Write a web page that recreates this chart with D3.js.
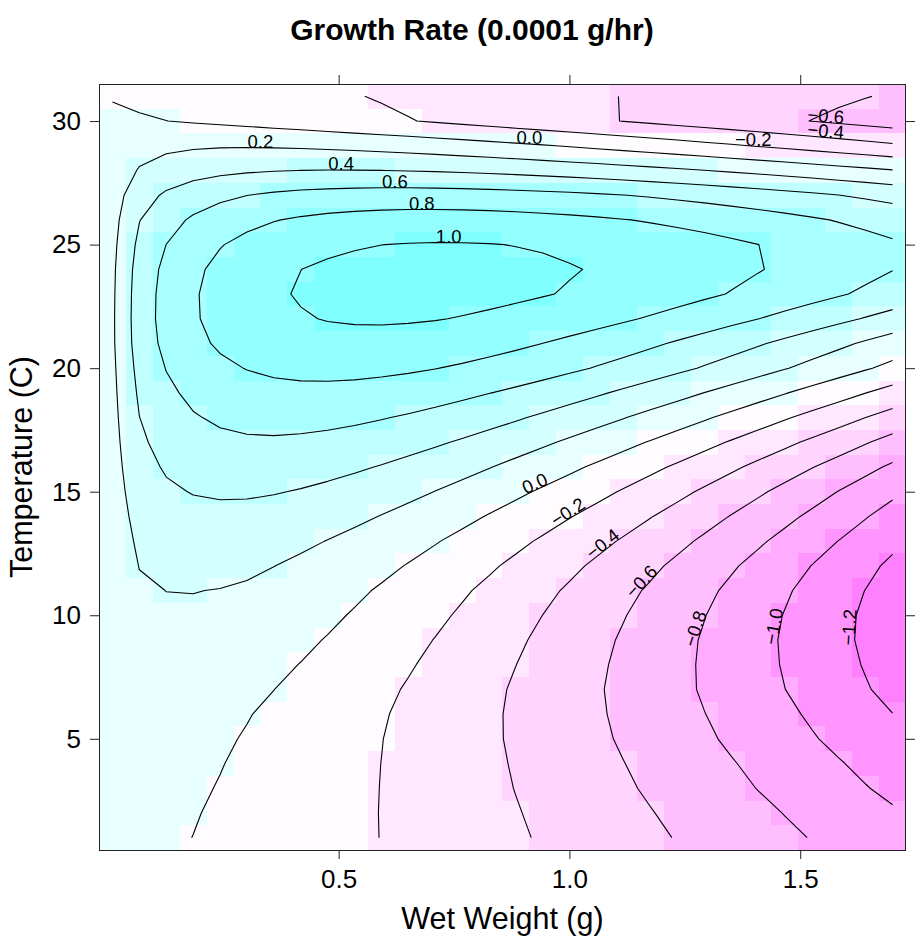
<!DOCTYPE html>
<html>
<head>
<meta charset="utf-8">
<title>Growth Rate (0.0001 g/hr)</title>
<style>
  html, body { margin: 0; padding: 0; background: #fff; }
  svg { display: block; font-family: "Liberation Sans", Arial, Helvetica, sans-serif; }
</style>
</head>
<body>
<script src="https://cdn.jsdelivr.net/npm/d3@7"></script>
<script>
// Wet weight grid (g), one value per column
const weights = [0.0100, 0.0683, 0.1266, 0.1848, 0.2431, 0.3014, 0.3597, 0.4179, 0.4762, 0.5345,
                 0.5928, 0.6510, 0.7093, 0.7676, 0.8259, 0.8841, 0.9424, 1.0007, 1.0590, 1.1172,
                 1.1755, 1.2338, 1.2921, 1.3503, 1.4086, 1.4669, 1.5252, 1.5834, 1.6417, 1.7000];

// Temperature (C), one value per row of growthRate (top row first)
const temperatures = [31, 30, 29, 28, 27, 26, 25, 24, 23, 22, 21, 20, 19, 18, 17, 16,
                      15, 14, 13, 12, 11, 10, 9, 8, 7, 6, 5, 4, 3, 2, 1];

// Growth rate (0.0001 g/hr); rows follow temperatures, columns follow weights
const growthRate = [
  [-0.003,-0.024,-0.045,-0.066,-0.087,-0.108,-0.129,-0.150,-0.171,-0.192,-0.213,-0.235,-0.256,-0.277,-0.298,-0.319,-0.340,-0.362,-0.383,-0.404,-0.425,-0.446,-0.467,-0.489,-0.510,-0.531,-0.552,-0.574,-0.595,-0.616],
  [0.010,0.012,0.001,-0.015,-0.033,-0.052,-0.074,-0.096,-0.119,-0.143,-0.167,-0.192,-0.217,-0.243,-0.269,-0.296,-0.322,-0.349,-0.377,-0.404,-0.432,-0.460,-0.488,-0.517,-0.545,-0.574,-0.603,-0.632,-0.661,-0.690],
  [0.048,0.128,0.161,0.177,0.185,0.186,0.182,0.175,0.164,0.151,0.136,0.119,0.100,0.080,0.058,0.036,0.012,-0.013,-0.039,-0.066,-0.093,-0.122,-0.151,-0.180,-0.211,-0.241,-0.273,-0.305,-0.337,-0.370],
  [0.076,0.214,0.283,0.327,0.358,0.379,0.392,0.401,0.404,0.404,0.401,0.394,0.386,0.375,0.362,0.347,0.330,0.312,0.293,0.272,0.250,0.227,0.203,0.178,0.152,0.125,0.098,0.069,0.040,0.010],
  [0.110,0.318,0.428,0.502,0.557,0.598,0.629,0.652,0.668,0.679,0.686,0.688,0.686,0.682,0.674,0.664,0.652,0.638,0.621,0.603,0.583,0.561,0.538,0.513,0.487,0.460,0.432,0.402,0.372,0.340],
  [0.135,0.394,0.531,0.626,0.697,0.750,0.792,0.823,0.847,0.864,0.875,0.881,0.883,0.881,0.876,0.867,0.855,0.841,0.825,0.806,0.785,0.762,0.737,0.710,0.682,0.653,0.621,0.589,0.555,0.520],
  [0.152,0.445,0.601,0.709,0.790,0.852,0.899,0.936,0.964,0.985,0.999,1.007,1.011,1.010,1.005,0.996,0.985,0.970,0.953,0.933,0.911,0.886,0.860,0.831,0.801,0.769,0.735,0.700,0.663,0.625],
  [0.165,0.480,0.647,0.762,0.847,0.912,0.961,0.999,1.027,1.046,1.059,1.065,1.067,1.063,1.055,1.044,1.029,1.010,0.989,0.965,0.938,0.909,0.878,0.844,0.809,0.771,0.732,0.691,0.649,0.605],
  [0.171,0.495,0.665,0.781,0.866,0.930,0.978,1.013,1.038,1.055,1.064,1.067,1.065,1.058,1.046,1.030,1.010,0.987,0.961,0.932,0.901,0.867,0.830,0.792,0.751,0.708,0.664,0.617,0.570,0.520],
  [0.174,0.500,0.667,0.779,0.859,0.917,0.959,0.988,1.007,1.017,1.020,1.016,1.007,0.992,0.973,0.950,0.923,0.893,0.859,0.822,0.783,0.741,0.697,0.650,0.602,0.551,0.498,0.444,0.388,0.330],
  [0.173,0.490,0.649,0.753,0.825,0.876,0.910,0.932,0.943,0.946,0.941,0.930,0.913,0.891,0.864,0.834,0.799,0.761,0.720,0.676,0.629,0.580,0.528,0.474,0.418,0.360,0.300,0.239,0.175,0.110],
  [0.163,0.460,0.606,0.700,0.763,0.806,0.834,0.849,0.854,0.852,0.842,0.826,0.804,0.778,0.747,0.713,0.675,0.633,0.589,0.542,0.492,0.440,0.385,0.329,0.270,0.209,0.147,0.083,0.017,-0.050],
  [0.154,0.429,0.561,0.643,0.696,0.729,0.747,0.754,0.752,0.742,0.725,0.702,0.674,0.641,0.604,0.564,0.520,0.473,0.423,0.370,0.315,0.258,0.198,0.137,0.073,0.008,-0.059,-0.128,-0.198,-0.270],
  [0.145,0.398,0.515,0.585,0.628,0.652,0.662,0.661,0.651,0.634,0.610,0.581,0.547,0.509,0.466,0.420,0.371,0.319,0.264,0.207,0.147,0.085,0.021,-0.045,-0.112,-0.182,-0.253,-0.325,-0.400,-0.475],
  [0.135,0.366,0.469,0.527,0.560,0.575,0.577,0.568,0.552,0.528,0.498,0.463,0.424,0.380,0.333,0.282,0.228,0.172,0.113,0.051,-0.012,-0.078,-0.146,-0.215,-0.286,-0.359,-0.434,-0.509,-0.587,-0.665],
  [0.124,0.332,0.420,0.467,0.490,0.497,0.492,0.477,0.454,0.425,0.390,0.350,0.306,0.258,0.207,0.152,0.095,0.035,-0.027,-0.091,-0.158,-0.226,-0.296,-0.368,-0.442,-0.517,-0.593,-0.671,-0.750,-0.830],
  [0.113,0.297,0.371,0.408,0.422,0.422,0.410,0.389,0.361,0.327,0.288,0.245,0.197,0.146,0.092,0.035,-0.024,-0.086,-0.150,-0.216,-0.284,-0.354,-0.426,-0.499,-0.573,-0.649,-0.726,-0.805,-0.884,-0.965],
  [0.102,0.262,0.322,0.349,0.355,0.348,0.330,0.305,0.273,0.236,0.194,0.147,0.098,0.045,-0.011,-0.069,-0.130,-0.193,-0.258,-0.324,-0.393,-0.463,-0.534,-0.607,-0.681,-0.757,-0.833,-0.911,-0.990,-1.070],
  [0.091,0.230,0.279,0.297,0.296,0.283,0.261,0.231,0.196,0.155,0.111,0.062,0.011,-0.044,-0.101,-0.160,-0.222,-0.285,-0.351,-0.418,-0.486,-0.556,-0.628,-0.700,-0.774,-0.849,-0.926,-1.003,-1.081,-1.160],
  [0.083,0.204,0.243,0.253,0.246,0.229,0.202,0.169,0.131,0.088,0.041,-0.009,-0.062,-0.118,-0.176,-0.237,-0.299,-0.363,-0.429,-0.496,-0.565,-0.635,-0.706,-0.779,-0.852,-0.927,-1.003,-1.079,-1.157,-1.235],
  [0.074,0.179,0.201,0.203,0.196,0.180,0.150,0.115,0.075,0.030,-0.018,-0.069,-0.123,-0.179,-0.237,-0.297,-0.359,-0.423,-0.488,-0.555,-0.622,-0.692,-0.762,-0.833,-0.905,-0.979,-1.053,-1.128,-1.203,-1.280],
  [0.067,0.158,0.181,0.180,0.165,0.141,0.110,0.073,0.032,-0.014,-0.062,-0.113,-0.166,-0.222,-0.280,-0.339,-0.401,-0.463,-0.527,-0.592,-0.659,-0.727,-0.795,-0.865,-0.935,-1.007,-1.079,-1.152,-1.226,-1.300],
  [0.059,0.137,0.153,0.147,0.129,0.103,0.070,0.033,-0.009,-0.054,-0.102,-0.152,-0.205,-0.260,-0.316,-0.374,-0.433,-0.494,-0.556,-0.619,-0.684,-0.749,-0.815,-0.882,-0.950,-1.018,-1.088,-1.158,-1.229,-1.300],
  [0.052,0.115,0.125,0.116,0.097,0.070,0.034,-0.004,-0.045,-0.089,-0.136,-0.185,-0.236,-0.289,-0.343,-0.399,-0.456,-0.514,-0.573,-0.634,-0.695,-0.757,-0.820,-0.884,-0.948,-1.013,-1.079,-1.145,-1.212,-1.280],
  [0.044,0.095,0.098,0.085,0.063,0.034,0.001,-0.037,-0.078,-0.121,-0.166,-0.214,-0.263,-0.313,-0.365,-0.418,-0.472,-0.528,-0.584,-0.641,-0.699,-0.758,-0.817,-0.877,-0.938,-0.999,-1.061,-1.124,-1.187,-1.250],
  [0.037,0.076,0.075,0.060,0.036,0.007,-0.026,-0.063,-0.102,-0.143,-0.187,-0.231,-0.278,-0.325,-0.374,-0.424,-0.475,-0.527,-0.579,-0.633,-0.687,-0.741,-0.797,-0.852,-0.909,-0.966,-1.023,-1.081,-1.139,-1.198],
  [0.032,0.064,0.059,0.043,0.019,-0.010,-0.043,-0.078,-0.116,-0.155,-0.197,-0.240,-0.284,-0.329,-0.375,-0.422,-0.471,-0.519,-0.569,-0.619,-0.670,-0.721,-0.773,-0.826,-0.879,-0.932,-0.986,-1.040,-1.095,-1.150],
  [0.028,0.052,0.046,0.028,0.005,-0.023,-0.055,-0.089,-0.124,-0.162,-0.201,-0.241,-0.283,-0.325,-0.369,-0.413,-0.458,-0.504,-0.550,-0.597,-0.644,-0.692,-0.740,-0.789,-0.838,-0.888,-0.938,-0.988,-1.039,-1.090],
  [0.024,0.044,0.036,0.018,-0.006,-0.033,-0.063,-0.096,-0.130,-0.166,-0.203,-0.242,-0.281,-0.321,-0.362,-0.404,-0.446,-0.489,-0.533,-0.577,-0.621,-0.666,-0.712,-0.758,-0.804,-0.851,-0.897,-0.945,-0.992,-1.040],
  [0.021,0.035,0.025,0.007,-0.016,-0.043,-0.072,-0.102,-0.135,-0.169,-0.204,-0.239,-0.276,-0.314,-0.352,-0.391,-0.430,-0.470,-0.511,-0.552,-0.593,-0.635,-0.677,-0.719,-0.762,-0.805,-0.848,-0.892,-0.936,-0.980],
  [0.018,0.028,0.017,-0.001,-0.024,-0.050,-0.077,-0.107,-0.138,-0.170,-0.203,-0.237,-0.271,-0.307,-0.343,-0.379,-0.416,-0.454,-0.492,-0.530,-0.569,-0.608,-0.647,-0.687,-0.727,-0.767,-0.807,-0.848,-0.889,-0.930]
];

// Break points of the shaded bands; contour lines are drawn at the same values
const levelBreaks = [-1.4, -1.2, -1.0, -0.8, -0.6, -0.4, -0.2, 0.0, 0.2, 0.4, 0.6, 0.8, 1.0, 1.2];
// One fill per band, from most negative (magenta) to most positive (cyan)
const bandColors = ["#FF80FF", "#FF94FF", "#FFABFF", "#FFBFFF", "#FFD4FF", "#FFE8FF", "#FFFCFF",
                    "#E8FFFF", "#D4FFFF", "#BFFFFF", "#A8FFFF", "#94FFFF", "#80FFFF"];

const xTicks = [0.5, 1.0, 1.5];
const yTicks = [5, 10, 15, 20, 25, 30];

const chartTitle = "Growth Rate (0.0001 g/hr)";
const xTitle = "Wet Weight (g)";
const yTitle = "Temperature (C)";

// ---------------------------------------------------------------------------
const W = 919, H = 948;
const panel = { left: 99, right: 906, top: 84, bottom: 850 };
const FONT = '"Liberation Sans", Arial, Helvetica, sans-serif';

// preferred weight for the horizontal labels of the long lines near the top edge
const topLabelWeight = new Map([[0.0, 0.93], [-0.2, 1.39]]);

const svg = d3.select("body").append("svg")
  .attr("width", W).attr("height", H)
  .attr("viewBox", `0 0 ${W} ${H}`);

// grid ordered bottom-up for contouring
const ys = temperatures.slice().reverse();
const z = growthRate.slice().reverse();
const xs = weights;
const halfW = (xs[1] - xs[0]) / 2;
const halfT = Math.abs(ys[1] - ys[0]) / 2;

const x = d3.scaleLinear()
  .domain([xs[0] - halfW, xs[xs.length - 1] + halfW])
  .range([panel.left, panel.right]);
const y = d3.scaleLinear()
  .domain([ys[0] - halfT, ys[ys.length - 1] + halfT])
  .range([panel.bottom, panel.top]);

const color = d3.scaleThreshold()
  .domain(levelBreaks.slice(1, -1))
  .range(bandColors);

// ---- shaded cells ----
const cells = [];
z.forEach((row, j) => row.forEach((v, i) => cells.push({ i, j, v })));
svg.append("g").attr("shape-rendering", "crispEdges")
  .selectAll("rect").data(cells).join("rect")
  .attr("x", d => Math.round(x(xs[d.i] - halfW)))
  .attr("y", d => Math.round(y(ys[d.j] + halfT)))
  .attr("width", d => Math.round(x(xs[d.i] + halfW)) - Math.round(x(xs[d.i] - halfW)))
  .attr("height", d => Math.round(y(ys[d.j] - halfT)) - Math.round(y(ys[d.j] + halfT)))
  .attr("fill", d => color(d.v));

// ---- contour lines (marching squares over the cell centres) ----
function contourLines(level) {
  const nx = xs.length, ny = ys.length;
  const pts = new Map();
  const segs = [];
  const up = (i, j) => z[j][i] > level;
  function edge(key, i1, j1, i2, j2) {
    if (!pts.has(key)) {
      const z1 = z[j1][i1], z2 = z[j2][i2];
      const t = (level - z1) / (z2 - z1);
      pts.set(key, [xs[i1] + t * (xs[i2] - xs[i1]), ys[j1] + t * (ys[j2] - ys[j1])]);
    }
    return key;
  }
  for (let j = 0; j < ny - 1; j++) {
    for (let i = 0; i < nx - 1; i++) {
      const bl = up(i, j), br = up(i + 1, j), tr = up(i + 1, j + 1), tl = up(i, j + 1);
      const B = bl !== br ? edge(`h${i},${j}`, i, j, i + 1, j) : null;
      const R = br !== tr ? edge(`v${i + 1},${j}`, i + 1, j, i + 1, j + 1) : null;
      const T = tl !== tr ? edge(`h${i},${j + 1}`, i, j + 1, i + 1, j + 1) : null;
      const L = bl !== tl ? edge(`v${i},${j}`, i, j, i, j + 1) : null;
      const e = [B, R, T, L].filter(k => k !== null);
      if (e.length === 2) segs.push(e);
      else if (e.length === 4) {
        const centre = (z[j][i] + z[j][i + 1] + z[j + 1][i + 1] + z[j + 1][i]) / 4 > level;
        if (centre === bl) { segs.push([B, R], [T, L]); }
        else { segs.push([L, B], [R, T]); }
      }
    }
  }
  const adj = new Map();
  segs.forEach((s, k) => s.forEach(key => {
    if (!adj.has(key)) adj.set(key, []);
    adj.get(key).push(k);
  }));
  const used = new Array(segs.length).fill(false);
  function trace(start) {
    const keys = [start];
    let cur = start;
    for (;;) {
      const nxt = adj.get(cur).find(k => !used[k]);
      if (nxt === undefined) break;
      used[nxt] = true;
      const s = segs[nxt];
      cur = s[0] === cur ? s[1] : s[0];
      keys.push(cur);
    }
    return keys.map(k => pts.get(k));
  }
  const lines = [];
  for (const [key, list] of adj) {
    if (list.length === 1 && !used[list[0]]) {
      let ln = trace(key);
      // open lines run from their lower end upwards
      const a = ln[0], b = ln[ln.length - 1];
      if (a[1] > b[1] || (a[1] === b[1] && a[0] > b[0])) ln = ln.reverse();
      lines.push(ln);
    }
  }
  segs.forEach((s, k) => { if (!used[k]) lines.push(trace(s[0])); });
  return lines;
}

const lineGen = d3.line().x(p => x(p[0])).y(p => y(p[1]));
const gLines = svg.append("g").attr("fill", "none").attr("stroke", "#000")
  .attr("stroke-width", 1.1).attr("stroke-linejoin", "round");
const gLabels = svg.append("g").attr("font-family", FONT).attr("font-size", 18.5)
  .attr("fill", "#000").attr("text-anchor", "middle");

const fmt = d3.format(".1f");
const rx = [xs[0], xs[xs.length - 1]], ry = [ys[0], ys[ys.length - 1]];
const depth = p => Math.min(
  Math.min(p[0] - rx[0], rx[1] - p[0]) / (rx[1] - rx[0]),
  Math.min(p[1] - ry[0], ry[1] - p[1]) / (ry[1] - ry[0]));

levelBreaks.forEach(level => {
  contourLines(level).forEach(ln => {
    if (ln.length < 2) return;
    gLines.append("path").attr("d", lineGen(ln));
    const slopes = d3.range(ln.length - 1).map(k =>
      (ln[k + 1][1] - ln[k][1]) / (ln[k + 1][0] - ln[k][0]));
    let loc = 0, angle = 0;
    const meanT = d3.mean(ln, p => p[1]);
    if (topLabelWeight.has(level) && meanT > 25) {
      // long line along the top: flat label at the preferred weight
      const target = topLabelWeight.get(level);
      loc = d3.minIndex(slopes, (s, k) => Math.abs((ln[k][0] + ln[k + 1][0]) / 2 - target));
    } else {
      // flattest segment, unless it sits at the panel edge, then the deepest point
      let best = Infinity;
      slopes.forEach((s, k) => { const a = Math.abs(s); if (a < best) { best = a; loc = k; } });
      if (depth(ln[loc]) < 0.05) {
        let dmax = -Infinity, di = 0;
        ln.forEach((p, k) => { const d = depth(p); if (d > dmax) { dmax = d; di = k; } });
        loc = Math.min(di, slopes.length - 1);
        const dx = x(ln[loc + 1][0]) - x(ln[loc][0]);
        const dy = y(ln[loc][1]) - y(ln[loc + 1][1]);
        angle = dx === 0 ? 90 : Math.atan(dy / dx) * 180 / Math.PI;
      }
    }
    const mx = x((ln[loc][0] + ln[loc + 1][0]) / 2);
    const my = y((ln[loc][1] + ln[loc + 1][1]) / 2);
    gLabels.append("text")
      .attr("transform", `translate(${mx.toFixed(1)},${my.toFixed(1)}) rotate(${(-angle).toFixed(1)})`)
      .text(fmt(level));
  });
});

// ---- panel frame and axes ----
svg.append("rect")
  .attr("x", panel.left + 0.5).attr("y", panel.top + 0.5)
  .attr("width", panel.right - panel.left - 1).attr("height", panel.bottom - panel.top)
  .attr("fill", "none").attr("stroke", "#222").attr("stroke-width", 1);

const TICK = 9;
function styleAxis(g) {
  g.select(".domain").remove();
  g.selectAll(".tick line").attr("stroke", "#222").attr("stroke-width", 1);
  g.selectAll(".tick text").attr("font-family", FONT).attr("font-size", 26).attr("fill", "#000");
}
svg.append("g").attr("transform", `translate(0,${panel.bottom})`)
  .call(d3.axisBottom(x).tickValues(xTicks).tickFormat(d3.format(".1f")).tickSize(TICK).tickPadding(11))
  .call(styleAxis);
svg.append("g").attr("transform", `translate(0,${panel.top})`)
  .call(d3.axisTop(x).tickValues(xTicks).tickFormat("").tickSize(TICK))
  .call(styleAxis);
svg.append("g").attr("transform", `translate(${panel.left},0)`)
  .call(d3.axisLeft(y).tickValues(yTicks).tickFormat(d3.format("d")).tickSize(TICK).tickPadding(9))
  .call(styleAxis);
svg.append("g").attr("transform", `translate(${panel.right},0)`)
  .call(d3.axisRight(y).tickValues(yTicks).tickFormat("").tickSize(TICK))
  .call(styleAxis);

// ---- titles ----
svg.append("text")
  .attr("x", 472).attr("y", 40)
  .attr("text-anchor", "middle").attr("font-family", FONT)
  .attr("font-size", 30).attr("font-weight", "bold")
  .text(chartTitle);
svg.append("text")
  .attr("x", (panel.left + panel.right) / 2).attr("y", 929)
  .attr("text-anchor", "middle").attr("font-family", FONT).attr("font-size", 30.5)
  .text(xTitle);
svg.append("text")
  .attr("transform", `translate(32,${(panel.top + panel.bottom) / 2}) rotate(-90)`)
  .attr("text-anchor", "middle").attr("font-family", FONT).attr("font-size", 30.5)
  .text(yTitle);
</script>
</body>
</html>
